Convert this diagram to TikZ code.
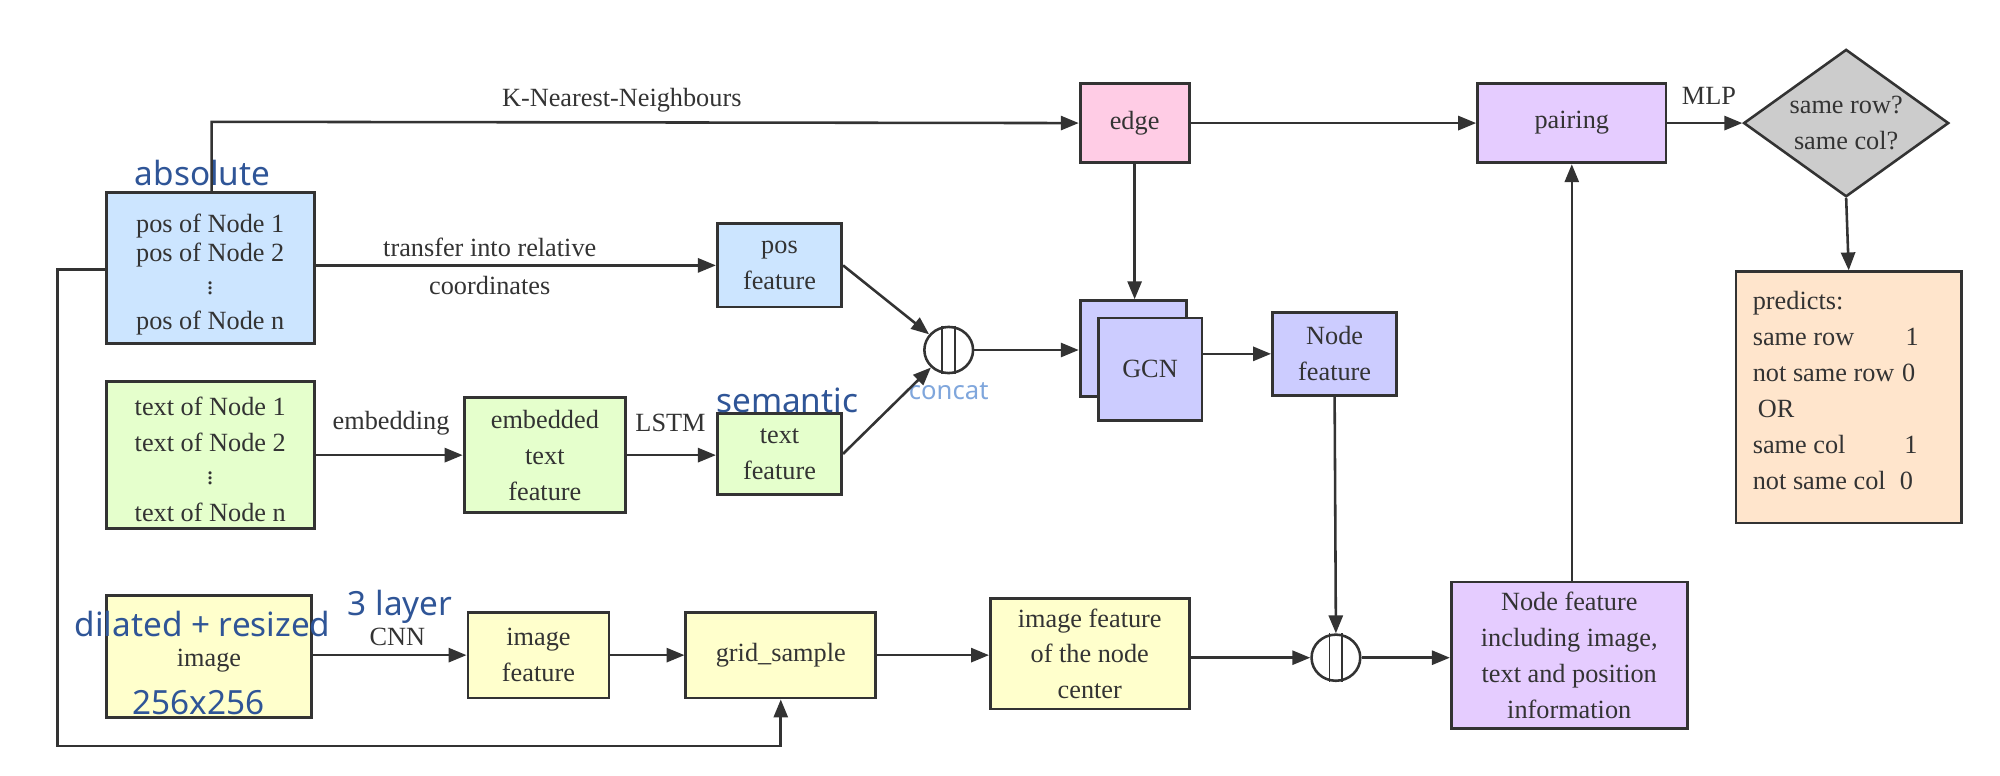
\documentclass[tikz,border=0pt]{standalone}
\usepackage{fontspec}
\setmainfont{Liberation Serif}
\newfontfamily\bluefont{Noto Sans}
\usetikzlibrary{arrows.meta,shapes.geometric}
\definecolor{lblue}{HTML}{CCE5FF}
\definecolor{lgreen}{HTML}{E5FFCC}
\definecolor{lyellow}{HTML}{FFFFCC}
\definecolor{lpink}{HTML}{FFCCE5}
\definecolor{lpurple}{HTML}{E5CCFF}
\definecolor{lviolet}{HTML}{CCCCFF}
\definecolor{lpeach}{HTML}{FFE5CC}
\definecolor{lgray}{HTML}{CCCCCC}
\definecolor{dblue}{HTML}{2F5597}
\definecolor{cblue}{HTML}{7FA6DC}
\definecolor{ink}{HTML}{333333}
\begin{document}
\begin{tikzpicture}[x=1pt,y=-1pt,
  font=\fontsize{20.5}{28}\selectfont,
  box/.style={draw=ink,line width=2.2pt,align=center,inner sep=0pt,text=ink},
  arr/.style={draw=ink,line width=2pt,-{Triangle[length=14pt,width=11pt]}},
  cc/.style={draw=ink,line width=2pt,ellipse,minimum width=38pt,minimum height=36pt,inner sep=0pt},
  lab/.style={text=ink,inner sep=1pt},
  t/.style={text=ink,inner sep=0pt},
  blue/.style={text=dblue,font=\bluefont\fontsize{26}{28}\selectfont,inner sep=0pt}]
\useasboundingbox (0,0) rectangle (1560,605);
% boxes
\node[box,fill=lblue,minimum width=162pt,minimum height=118pt] (pos) at (164,209) {};
\node[t] (p1) at (164,176) {pos of Node 1};
\node[t] (p2) at (164,199) {pos of Node 2};
\node[t] (p3) at (164,222) {$\vdots$};
\node[t] (p4) at (164,252) {pos of Node n};
\node[box,fill=lgreen,minimum width=162pt,minimum height=115pt] (txt) at (164,355) {};
\node[t] (q1) at (164,317) {text of Node 1};
\node[t] (q2) at (164,345) {text of Node 2};
\node[t] (q3) at (164,370) {$\vdots$};
\node[t] (q4) at (164,400) {text of Node n};
\node[box,fill=lyellow,minimum width=160pt,minimum height=95pt] (img) at (163,512) {};
\node[t] (imgt) at (163,515) {image};
\node[blue] (dil) at (158,487) {dilated + resized};
\node[blue] (res) at (155,548) {256x256};
\node[blue] (abs) at (158,135) {absolute};

\node[box,fill=lblue,minimum width=97pt,minimum height=65pt] (posf) at (608,207) {pos\\feature};
\node[box,fill=lgreen,minimum width=126pt,minimum height=90pt] (emb) at (425,355) {embedded\\text\\feature};
\node[box,fill=lgreen,minimum width=97pt,minimum height=63pt] (txf) at (608,354) {text\\feature};
\node[blue] (sem) at (614,312) {semantic};
\node[box,fill=lyellow,minimum width=110pt,minimum height=67pt] (imf) at (420,511) {image\\feature};
\node[box,fill=lyellow,minimum width=148pt,minimum height=67pt] (grid) at (609,511) {grid\_sample};
\node[box,fill=lyellow,minimum width=155pt,minimum height=86pt] (imc) at (850,510) {image feature\\of the node\\center};
\node[box,fill=lpink,minimum width=85pt,minimum height=62pt] (edge) at (885,96) {edge};
\node[box,fill=lpurple,minimum width=147pt,minimum height=62pt] (pair) at (1226,96) {pairing};
\node[box,line width=2pt,fill=lgray,diamond,aspect=1.39,minimum width=160pt,minimum height=115pt] (dia) at (1440,96) {};
\node[text=ink,align=center] (diat) at (1440,96) {same row?\\same col?};
\node[box,fill=lpeach,minimum width=176pt,minimum height=196pt] (pred) at (1442,310) {};
\node[text=ink,align=left,anchor=north west,inner sep=0pt] (predt) at (1367,227) {%
predicts:\\
same row\hspace{40pt}1\\
not same row\hspace{6pt}0\\
\hspace{4pt}OR\\
same col\hspace{46pt}1\\
not same col\hspace{11pt}0};
\node[box,fill=lviolet,minimum width=83pt,minimum height=75pt] (gcnb) at (884,272) {};
\node[box,fill=lviolet,minimum width=81pt,minimum height=80pt] (gcn) at (897,288) {GCN};
\node[box,fill=lviolet,minimum width=97pt,minimum height=65pt] (nf) at (1041,276) {Node\\feature};
\node[box,fill=lpurple,minimum width=184pt,minimum height=114pt] (big) at (1224,511) {Node feature\\including image,\\text and position\\information};
% concat circles
\node[cc] (c1) at (740,273) {};
\draw[ink,line width=1.5pt] ([xshift=-5pt]c1.north) -- ([xshift=-5pt]c1.south) ([xshift=5pt]c1.north) -- ([xshift=5pt]c1.south);
\node[text=cblue,font=\bluefont\fontsize{20}{24}\selectfont] (cl) at (740,305) {concat};
\node[cc] (c2) at (1042,513) {};
\draw[ink,line width=1.5pt] ([xshift=-5pt]c2.north) -- ([xshift=-5pt]c2.south) ([xshift=5pt]c2.north) -- ([xshift=5pt]c2.south);
% connectors
\coordinate (k1) at (165,95);
\draw[arr] (pos.north -| k1) -- (k1) -- (edge.west);
\node[lab] (knn) at (485,78) {K-Nearest-Neighbours};
\draw[arr] (pos.east |- posf.west) -- (posf.west);
\node[lab] (tr1) at (382,193) {transfer into relative};
\node[lab] (tr2) at (382,223) {coordinates};
\draw[arr] (edge.east) -- (pair.west);
\draw[arr] (pair.east) -- (dia.west);
\node[lab] (mlp) at (1333,75) {MLP};
\draw[arr] (dia.south) -- (pred.north);
\draw[arr] (posf.east) -- (c1);
\draw[arr] (txf.east) -- (c1);
\draw[arr] (c1.east) -- (gcnb.west |- c1.east);
\draw[arr] (edge.south) -- (gcnb.north -| edge.south);
\draw[arr] (gcn.east |- nf.west) -- (nf.west);
\draw[arr] (nf.south) -- (c2.north);
\draw[arr] (txt.east |- emb.west) -- (emb.west);
\node[lab] (embl) at (305,330) {embedding};
\draw[arr] (emb.east) -- (txf.west |- emb.east);
\node[lab] (lstm) at (523,330) {LSTM};
\draw[arr] (img.east |- imf.west) -- (imf.west);
\node[lab] (cnn) at (310,497) {CNN};
\node[blue] (lay) at (312,473) {3 layer};
\draw[arr] (imf.east) -- (grid.west);
\draw[arr] (grid.east) -- (imc.west |- grid.east);
\draw[arr] (imc.east |- c2.west) -- (c2.west);
\draw[arr] (c2.east) -- (big.west |- c2.east);
\draw[arr] (big.north -| pair.south) -- (pair.south);
\coordinate (l1) at (45,210);
\coordinate (l2) at (45,582);
\draw[arr] (pos.west |- l1) -- (l1) -- (l2) -- (grid.south |- l2) -- (grid.south);
\end{tikzpicture}
\end{document}
